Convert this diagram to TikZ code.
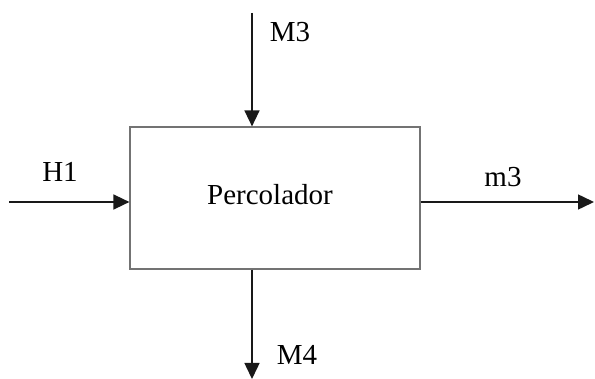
\documentclass[tikz,border=0pt]{standalone}
\usepackage{fontspec}
\setmainfont{Liberation Serif}
\usetikzlibrary{arrows.meta}
\begin{document}
\begin{tikzpicture}[x=1pt,y=-1pt,
  flow/.style={line width=1.5pt,draw=black!90,-{Triangle[length=16pt,width=15pt]}},
  unit/.style={draw=black!55,line width=1.2pt,minimum width=290pt,minimum height=142pt,inner sep=0pt},
  lbl/.style={font=\fontsize{29}{29}\selectfont,anchor=base,inner sep=0pt}]
\useasboundingbox (0,0) rectangle (595,379);
% process block
\node[unit] (box) at (275,198) {};
\node[lbl] (name) at (270,205) {Percolador};
% free ends of the streams
\coordinate (inL) at (9,202);
\coordinate (outR) at (594,202);
\coordinate (inT) at (252,13);
\coordinate (outB) at (252,379);
% streams
\draw[flow] (inL) -- (inL -| box.west);
\draw[flow] (box.east |- outR) -- (outR);
\draw[flow] (inT) -- (inT |- box.north);
\draw[flow] (outB |- box.south) -- (outB);
% stream labels
\node[lbl] (h1) at (60,182) {H1};
\node[lbl] (m3top) at (290,42) {M3};
\node[lbl] (m3r) at (503,187) {m3};
\node[lbl] (m4) at (297,365) {M4};
\end{tikzpicture}
\end{document}
